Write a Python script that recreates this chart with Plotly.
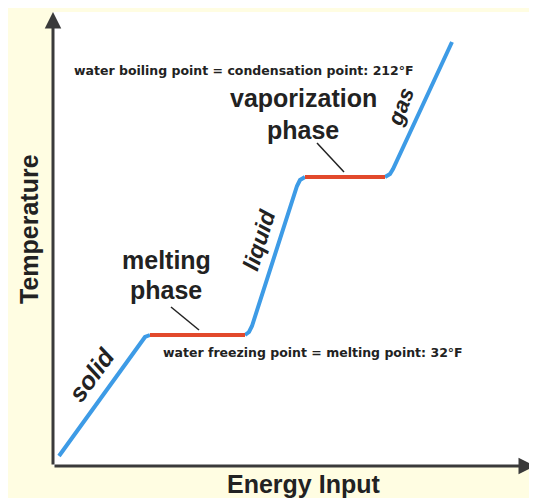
import plotly.graph_objects as go

# ---- data (energy input vs temperature, arbitrary units) ----
solid_x = [6, 88, 92, 97]
solid_y = [10, 125, 129, 131]
melt_x = [97, 192]
melt_y = [131, 131]
liquid_x = [192, 196, 199, 244, 247, 252]
liquid_y = [131, 134, 140, 280, 286, 289]
vapor_x = [252, 332]
vapor_y = [289, 289]
gas_x = [332, 337, 340, 399]
gas_y = [289, 292, 297, 424]

X_MAX = 484
Y_MAX = 454
X_ARROW = 482

BLUE = "#3d9be6"
RED = "#e2492c"
TXT = "#222222"
AX = "#3a3a3a"
YEL = "#fffde2"

fig = go.Figure()
for xs, ys, c in [(solid_x, solid_y, BLUE), (liquid_x, liquid_y, BLUE), (gas_x, gas_y, BLUE),
                  (melt_x, melt_y, RED), (vapor_x, vapor_y, RED)]:
    fig.add_trace(go.Scatter(x=xs, y=ys, mode="lines", line=dict(color=c, width=4),
                             hoverinfo="skip", showlegend=False))

W, H = 537, 498
L, R, T, B = 45, 8, 4, 40


def px_x(p):  # page pixel -> paper x
    return (p - 53) / X_MAX


def px_y(p):  # page pixel -> paper y
    return (466 - p) / Y_MAX


shapes = [
    dict(type="line", xref="x", yref="y", x0=264, y0=323, x1=291, y1=294, line=dict(color=TXT, width=1.5)),
    dict(type="line", xref="x", yref="y", x0=118, y0=159, x1=146, y1=136, line=dict(color=TXT, width=1.5)),
]

ann = []
ann.append(dict(x=X_ARROW, y=0, ax=0, ay=0, xref="x", yref="y", axref="x", ayref="y", text="",
                showarrow=True, arrowhead=2, arrowsize=1.1, arrowwidth=3, arrowcolor=AX))
ann.append(dict(x=0, y=Y_MAX, ax=0, ay=0, xref="x", yref="y", axref="x", ayref="y", text="",
                showarrow=True, arrowhead=2, arrowsize=1.1, arrowwidth=3, arrowcolor=AX))

ARIAL = "Liberation Sans, Arial, sans-serif"
big = dict(family=ARIAL, size=25, color=TXT)
small = dict(family="DejaVu Sans, Verdana, sans-serif", size=12.5, color=TXT)


def t(x, y, text, font, angle=0):
    ann.append(dict(x=x, y=y, xref="x", yref="y", text=text, showarrow=False, font=font,
                    textangle=angle, xanchor="center", yanchor="middle"))


t(191, 396, "<b>water boiling point = condensation point: 212°F</b>", small)
t(260, 114, "<b>water freezing point = melting point: 32°F</b>", small)
t(250, 368, "<b>vaporization</b>", big)
t(250, 336, "<b>phase</b>", big)
t(113, 206, "<b>melting</b>", big)
t(113, 176, "<b>phase</b>", big)
t(38, 91, "<b><i>solid</i></b>", dict(family=ARIAL, size=25, color=TXT), -54)
t(206, 226, "<b><i>liquid</i></b>", dict(family=ARIAL, size=23, color=TXT), -73)
t(347, 359, "<b><i>gas</i></b>", dict(family=ARIAL, size=22, color=TXT), -70)

ann.append(dict(x=px_x(29), y=px_y(229), xref="paper", yref="paper",
                text="<b>Temperature</b>", showarrow=False, font=dict(family=ARIAL, size=25, color=TXT),
                textangle=-90, xanchor="center", yanchor="middle"))
ann.append(dict(x=px_x(303), y=px_y(484), xref="paper", yref="paper",
                text="<b>Energy Input</b>", showarrow=False, font=dict(family=ARIAL, size=25, color=TXT),
                xanchor="center", yanchor="middle"))

fig.update_layout(
    width=W, height=H,
    margin=dict(l=L, r=R, t=T, b=B, pad=0),
    paper_bgcolor=YEL, plot_bgcolor="white",
    xaxis=dict(range=[0, X_MAX], visible=False, fixedrange=True),
    yaxis=dict(range=[0, Y_MAX], visible=False, fixedrange=True),
    shapes=shapes, annotations=ann, showlegend=False,
)

fig.write_html("out.html", config={"displayModeBar": False})
